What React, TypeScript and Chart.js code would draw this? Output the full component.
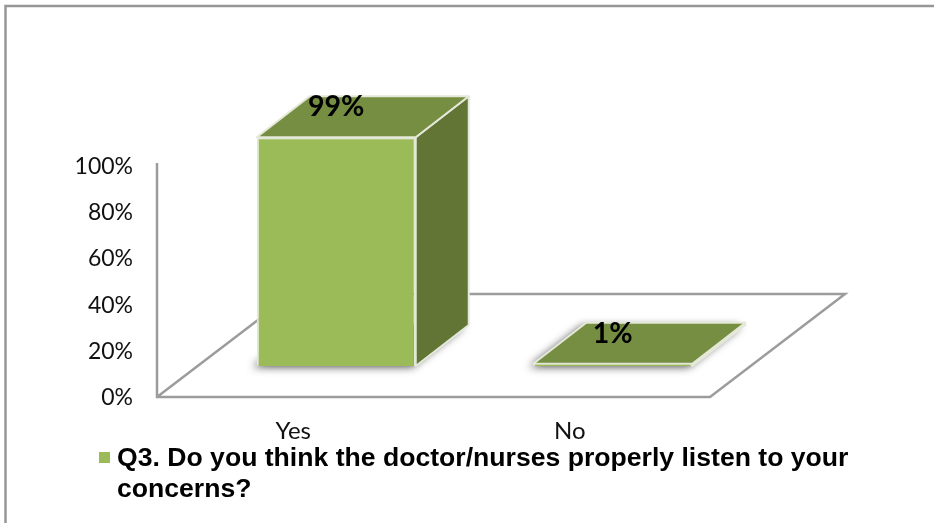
import React, { useEffect, useRef } from "react";
import { Chart, registerables } from "chart.js";

Chart.register(...registerables);

const categories = ["Yes", "No"];
const values = [99, 1];
const valueLabels = ["99%", "1%"];
const seriesName = "Q3. Do you think the doctor/nurses properly listen to your concerns?";
const legendLines = ["Q3. Do you think the doctor/nurses properly listen to your", "concerns?"];

const FRONT = "#9BBB59";
const TOP = "#768E42";
const SIDE = "#627535";
const EDGE = "#E4E8D8";
const AXIS = "#9C9C9C";
const FONT = "Lato, 'Open Sans', sans-serif";
const SHIFT_X = 43;
const SHIFT_Y = -30;
const DEPTH_X = 53;
const DEPTH_Y = -41;

function poly(ctx: CanvasRenderingContext2D, pts: number[][]) {
  ctx.beginPath();
  pts.forEach((p, i) => (i ? ctx.lineTo(p[0], p[1]) : ctx.moveTo(p[0], p[1])));
  ctx.closePath();
}

const scene3d = {
  id: "scene3d",
  beforeDatasetsDraw(chart: any) {
    const ctx: CanvasRenderingContext2D = chart.ctx;
    const { chartArea: a, width, height } = chart;
    ctx.save();
    // page frame
    ctx.strokeStyle = "#969696";
    ctx.lineWidth = 2.5;
    ctx.beginPath();
    ctx.moveTo(5.5, height);
    ctx.lineTo(5.5, 6);
    ctx.lineTo(width, 6);
    ctx.stroke();

    // floor and wall axis
    const x0 = a.left + 2;
    const y0 = 397;
    const x1 = 710;
    ctx.strokeStyle = AXIS;
    ctx.lineWidth = 2.5;
    ctx.lineJoin = "miter";
    ctx.beginPath();
    ctx.moveTo(x0, 163);
    ctx.lineTo(x0, y0);
    ctx.lineTo(x1, y0);
    ctx.lineTo(845, 294);
    ctx.lineTo(292, 294);
    ctx.lineTo(x0, y0);
    ctx.stroke();

    const meta = chart.getDatasetMeta(0);
    meta.data.forEach((bar: any) => {
      const half = bar.width / 2;
      const l = bar.x - half + SHIFT_X;
      const r = bar.x + half + SHIFT_X;
      const t = bar.y + SHIFT_Y;
      const b = bar.base + SHIFT_Y;

      // floor shadow
      ctx.save();
      ctx.shadowColor = "rgba(0,0,0,0.7)";
      ctx.shadowBlur = 8;
      ctx.shadowOffsetX = -4;
      ctx.shadowOffsetY = 1;
      ctx.fillStyle = SIDE;
      poly(ctx, [[l, b], [r, b], [r + DEPTH_X, b + DEPTH_Y], [l + DEPTH_X, b + DEPTH_Y]]);
      ctx.fill();
      ctx.restore();

      ctx.strokeStyle = EDGE;
      ctx.lineWidth = 2;
      ctx.lineJoin = "round";
      // right side face
      ctx.fillStyle = SIDE;
      poly(ctx, [[r, t], [r + DEPTH_X, t + DEPTH_Y], [r + DEPTH_X, b + DEPTH_Y], [r, b]]);
      ctx.fill();
      ctx.stroke();
      // top face
      ctx.fillStyle = TOP;
      poly(ctx, [[l, t], [l + DEPTH_X, t + DEPTH_Y], [r + DEPTH_X, t + DEPTH_Y], [r, t]]);
      ctx.fill();
      ctx.stroke();
    });
    ctx.restore();
  },
  beforeDatasetDraw(chart: any) {
    chart.ctx.save();
    chart.ctx.translate(SHIFT_X, SHIFT_Y);
  },
  afterDatasetDraw(chart: any) {
    chart.ctx.restore();
  },
  afterDatasetsDraw(chart: any) {
    const ctx: CanvasRenderingContext2D = chart.ctx;
    ctx.save();
    ctx.fillStyle = "#000";
    ctx.font = `bold 28.5px ${FONT}`;
    ctx.textAlign = "center";
    ctx.textBaseline = "middle";
    chart.getDatasetMeta(0).data.forEach((bar: any, i: number) => {
      ctx.fillText(valueLabels[i], bar.x + SHIFT_X, bar.y + SHIFT_Y - 30);
    });
    // legend
    ctx.fillStyle = FRONT;
    ctx.fillRect(99, 452, 11, 11);
    ctx.fillStyle = "#000";
    ctx.font = "bold 26.6px 'Liberation Sans', Arial, sans-serif";
    ctx.textAlign = "left";
    ctx.textBaseline = "alphabetic";
    legendLines.forEach((line, i) => ctx.fillText(line, 117, 466 + i * 31));
    ctx.restore();
  },
};

export default function App() {
  const ref = useRef<HTMLCanvasElement | null>(null);
  useEffect(() => {
    const chart = new Chart(ref.current as HTMLCanvasElement, {
      type: "bar",
      data: {
        labels: categories,
        datasets: [
          {
            label: seriesName,
            data: values,
            backgroundColor: FRONT,
            borderColor: EDGE,
            borderWidth: 2,
            barPercentage: 0.575,
            categoryPercentage: 1,
          },
        ],
      },
      plugins: [scene3d],
      options: {
        responsive: false,
        animation: false,
        layout: { padding: { top: 165, right: 226, left: 0, bottom: 0 } },
        plugins: { legend: { display: false }, tooltip: { enabled: false } },
        scales: {
          x: {
            grid: { display: false, drawTicks: false },
            border: { display: false },
            ticks: { color: "#111", font: { family: FONT, size: 24 }, padding: 21, maxRotation: 0 },
            afterFit: (s: any) => {
              s.height = 127;
            },
          },
          y: {
            min: 0,
            max: 100,
            grid: { display: false, drawTicks: false },
            border: { display: false },
            ticks: {
              stepSize: 20,
              color: "#111",
              font: { family: FONT, size: 23 },
              padding: 22,
              labelOffset: 1.5,
              callback: (v: any) => `${v}%`,
            },
            afterFit: (s: any) => {
              s.width = 155;
            },
          },
        },
      },
    } as any);
    return () => chart.destroy();
  }, []);
  return (
    <canvas
      ref={ref}
      width={934}
      height={523}
      style={{ position: "absolute", left: 0, top: 0, width: 934, height: 523, background: "#fff" }}
    />
  );
}
